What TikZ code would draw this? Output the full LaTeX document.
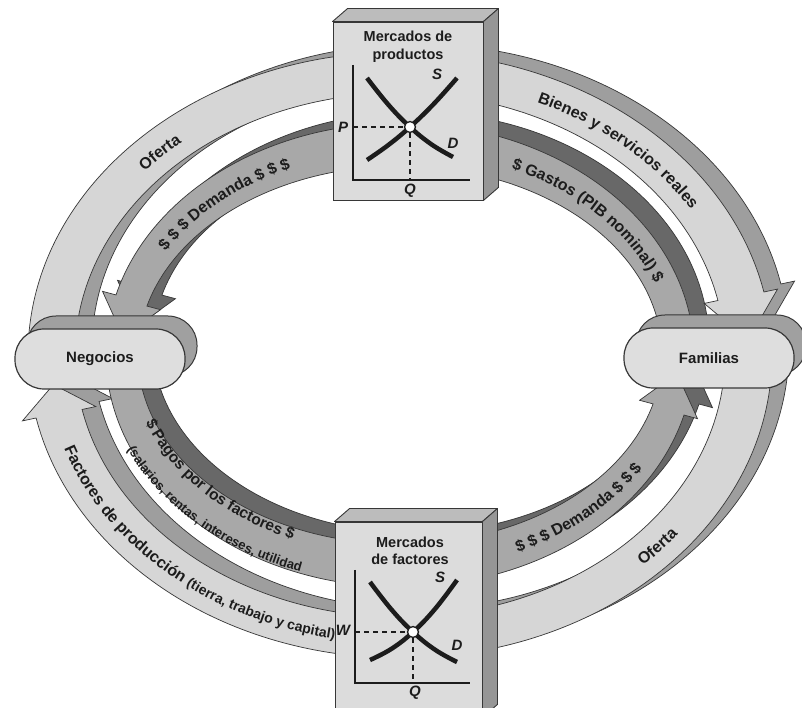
\documentclass[tikz,border=0pt]{standalone}
\usepackage{fontspec}
\setmainfont{Liberation Sans}
\usetikzlibrary{decorations.text}
\definecolor{outF}{RGB}{214,214,214}
\definecolor{outB}{RGB}{158,158,158}
\definecolor{inF}{RGB}{168,168,168}
\definecolor{inB}{RGB}{104,104,104}
\definecolor{edge}{RGB}{55,55,55}
\definecolor{boxF}{RGB}{220,220,220}
\definecolor{boxT}{RGB}{188,188,188}
\definecolor{boxS}{RGB}{150,150,150}
\definecolor{pillF}{RGB}{222,222,222}
\definecolor{pillB}{RGB}{160,160,160}
\definecolor{ink}{RGB}{28,28,28}
\tikzset{
  bandedge/.style={draw=edge, line width=0.7pt},
  boxfront/.style={draw=edge, line width=0.9pt, fill=boxF, inner sep=0pt},
  boxface/.style={draw=edge, line width=0.9pt, line join=round},
  boxtitle/.style={align=center, text=ink, font=\bfseries\fontsize{14.5}{17.5}\selectfont, inner sep=0pt},
  axisline/.style={draw=ink, line width=1.6pt},
  curveline/.style={draw=ink, line width=4.5pt},
  guide/.style={draw=ink, line width=1.2pt, dash pattern=on 5pt off 4pt},
  eqpt/.style={circle, draw=ink, line width=1.3pt, fill=white, minimum size=11pt, inner sep=0pt},
  axlabel/.style={text=ink, font=\bfseries\itshape\fontsize{15}{15}\selectfont, inner sep=0pt},
  pillfront/.style={draw=edge, line width=1.2pt, fill=pillF, rounded corners=29pt, minimum width=170pt, minimum height=60pt, inner sep=0pt, text=ink, font=\bfseries\fontsize{15}{15}\selectfont},
  pillback/.style={draw=edge, line width=1pt, fill=pillB, rounded corners=29pt, minimum width=170pt, minimum height=60pt, inner sep=0pt},
}
\begin{document}
\begin{tikzpicture}[x=1pt, y=1pt]
\useasboundingbox (0,0) rectangle (802,708);
\fill[white] (0,0) rectangle (802,708);

\begin{scope}[shift={(400,353)}]
  % ---------- back (side) copies ----------
  \begin{scope}[shift={(17,8)}]
    \path[fill=outB, bandedge] (178:372 and 303) arc[start angle=178, end angle=12, x radius=372, y radius=303]
      -- (12:386 and 317) -- (3:348.5 and 282.5) -- (12:311 and 248) -- (12:325 and 262)
      arc[start angle=12, end angle=178, x radius=325, y radius=262] -- cycle;
    \path[fill=outB, bandedge] (-2:372 and 303) arc[start angle=-2, end angle=-168, x radius=372, y radius=303]
      -- (-168:386 and 317) -- (-174:348.5 and 282.5) -- (-168:311 and 248) -- (-168:325 and 262)
      arc[start angle=-168, end angle=-2, x radius=325, y radius=262] -- cycle;
  \end{scope}
  \begin{scope}[shift={(15,11)}]
    \path[fill=inB, bandedge] (2:294 and 232) arc[start angle=2, end angle=165, x radius=294, y radius=232]
      -- (165:308 and 246) -- (175:278 and 210.5) -- (165:248 and 175) -- (165:262 and 189)
      arc[start angle=165, end angle=2, x radius=262, y radius=189] -- cycle;
    \path[fill=inB, bandedge] (183:294 and 232) arc[start angle=183, end angle=345, x radius=294, y radius=232]
      -- (345:308 and 246) -- (355:278 and 210.5) -- (345:248 and 175) -- (345:262 and 189)
      arc[start angle=345, end angle=183, x radius=262, y radius=189] -- cycle;
  \end{scope}
  % ---------- front copies ----------
  \path[fill=outF, bandedge] (178:372 and 303) arc[start angle=178, end angle=12, x radius=372, y radius=303]
    -- (12:386 and 317) -- (3:348.5 and 282.5) -- (12:311 and 248) -- (12:325 and 262)
    arc[start angle=12, end angle=178, x radius=325, y radius=262] -- cycle;
  \path[fill=outF, bandedge] (-2:372 and 303) arc[start angle=-2, end angle=-168, x radius=372, y radius=303]
    -- (-168:386 and 317) -- (-174:348.5 and 282.5) -- (-168:311 and 248) -- (-168:325 and 262)
    arc[start angle=-168, end angle=-2, x radius=325, y radius=262] -- cycle;
  \path[fill=inF, bandedge] (2:294 and 232) arc[start angle=2, end angle=165, x radius=294, y radius=232]
    -- (165:308 and 246) -- (175:278 and 210.5) -- (165:248 and 175) -- (165:262 and 189)
    arc[start angle=165, end angle=2, x radius=262, y radius=189] -- cycle;
  \path[fill=inF, bandedge] (183:294 and 232) arc[start angle=183, end angle=345, x radius=294, y radius=232]
    -- (345:308 and 246) -- (355:278 and 210.5) -- (345:248 and 175) -- (345:262 and 189)
    arc[start angle=345, end angle=183, x radius=262, y radius=189] -- cycle;

  % ---------- texts along the bands ----------
  \path[decorate, decoration={text along path, text align=center, text color=ink,
      text={|\fontsize{16}{16}\selectfont\bfseries|Oferta}}]
    (160:342 and 276) arc[start angle=160, end angle=110, x radius=342, y radius=276];
  \path[decorate, decoration={text along path, text align=center, text color=ink,
      text={|\fontsize{16}{16}\selectfont\bfseries|Bienes y servicios reales}}]
    (88:342 and 276) arc[start angle=88, end angle=6, x radius=342, y radius=276];
  \path[decorate, decoration={text along path, text align=center, text color=ink,
      text={|\fontsize{16}{16}\selectfont\bfseries|{\$} {\$} {\$} Demanda {\$} {\$} {\$}}}]
    (173:272 and 204) arc[start angle=173, end angle=95, x radius=272, y radius=204];
  \path[decorate, decoration={text along path, text align=center, text color=ink,
      text={|\fontsize{16}{16}\selectfont\bfseries|{\$} Gastos (PIB nominal) {\$}}}]
    (81:272 and 204) arc[start angle=81, end angle=1, x radius=272, y radius=204];
  \path[decorate, decoration={text along path, text align=center, text color=ink,
      text={|\fontsize{15.5}{15.5}\selectfont\bfseries|{\$} Pagos por los factores {\$}}}]
    (190:270 and 201) arc[start angle=190, end angle=254, x radius=270, y radius=201];
  \path[decorate, decoration={text along path, text align=center, text color=ink,
      text={|\fontsize{13}{13}\selectfont\bfseries|(salarios, rentas, intereses, utilidad}}]
    (195:299 and 230) arc[start angle=195, end angle=258, x radius=299, y radius=230];
  \path[decorate, decoration={text along path, text align=center, text color=ink,
      text={|\fontsize{16}{16}\selectfont\bfseries|{\$} {\$} {\$} Demanda {\$} {\$} {\$}}}]
    (274:284 and 217) arc[start angle=274, end angle=354, x radius=284, y radius=217];
  \path[decorate, decoration={text along path, text align=center, text color=ink,
      text={|\fontsize{16}{16}\selectfont\bfseries|Oferta}}]
    (298:355 and 289) arc[start angle=298, end angle=338, x radius=355, y radius=289];
  \path[decorate, decoration={text along path, text align=center, text color=ink,
      text={|\fontsize{16}{16}\selectfont\bfseries|Factores de producción |\fontsize{14}{14}\selectfont\bfseries|(tierra, trabajo y capital)}}]
    (186:355 and 289) arc[start angle=186, end angle=270, x radius=355, y radius=289];
\end{scope}

% ---------- product market box ----------
\node[boxfront, minimum width=150pt, minimum height=178pt] (pm) at (408,597) {};
\path[boxface, fill=boxT] (pm.north west) -- (pm.north east) -- ([shift={(15,13)}]pm.north east) -- ([shift={(15,13)}]pm.north west) -- cycle;
\path[boxface, fill=boxS] (pm.north east) -- ([shift={(15,13)}]pm.north east) -- ([shift={(15,13)}]pm.south east) -- (pm.south east) -- cycle;
\node[boxtitle] (pmt) at (408,661) {Mercados de\\productos};
\coordinate (pmtop) at (353,643);
\coordinate (pmo) at (353,528);
\coordinate (pmx) at (470,528);
\draw[axisline] (pmtop) -- (pmo) -- (pmx);
\draw[curveline] plot[smooth, tension=0.7] coordinates {(367,630) (388.5,603.1) (410,581) (431.5,563.6) (453,551)};
\draw[curveline] plot[smooth, tension=0.7] coordinates {(367,548) (388.5,563.1) (410,581) (433.5,603.8) (457,630)};
\coordinate (pmp) at (353,581);
\coordinate (pmq) at (410,528);
\node[eqpt] (pme) at (410,581) {};
\draw[guide] (pmp) -- (pme);
\draw[guide] (pme) -- (pmq);
\node[axlabel] (lP) at (343,581) {P};
\node[axlabel] (lQ1) at (410,517) {Q};
\node[axlabel] (lS1) at (437,634) {S};
\node[axlabel] (lD1) at (453,565) {D};

% ---------- factor market box ----------
\node[boxfront, minimum width=147pt, minimum height=195pt] (fm) at (408.5,88.5) {};
\path[boxface, fill=boxT] (fm.north west) -- (fm.north east) -- ([shift={(15,13)}]fm.north east) -- ([shift={(15,13)}]fm.north west) -- cycle;
\path[boxface, fill=boxS] (fm.north east) -- ([shift={(15,13)}]fm.north east) -- ([shift={(15,13)}]fm.south east) -- (fm.south east) -- cycle;
\node[boxtitle] (fmt) at (410,157) {Mercados\\de factores};
\coordinate (fmtop) at (355,138);
\coordinate (fmo) at (355,25);
\coordinate (fmx) at (470,25);
\draw[axisline] (fmtop) -- (fmo) -- (fmx);
\draw[curveline] plot[smooth, tension=0.7] coordinates {(370,126) (391.5,98.4) (413,76) (435,58.3) (457,46)};
\draw[curveline] plot[smooth, tension=0.7] coordinates {(370,48) (391.5,59.2) (413,76) (435,99) (457,128)};
\coordinate (fmw) at (355,76);
\coordinate (fmq) at (413,25);
\node[eqpt] (fme) at (413,76) {};
\draw[guide] (fmw) -- (fme);
\draw[guide] (fme) -- (fmq);
\node[axlabel] (lW) at (343,78) {W};
\node[axlabel] (lQ2) at (415,15) {Q};
\node[axlabel] (lS2) at (440,131) {S};
\node[axlabel] (lD2) at (457,63) {D};

% ---------- households and firms ----------
\node[pillback] (negb) at (112,362) {};
\node[pillfront] (neg) at (100,349) {Negocios};
\node[pillback] (famb) at (721,363) {};
\node[pillfront] (fam) at (709,350) {Familias};
\end{tikzpicture}
\end{document}
